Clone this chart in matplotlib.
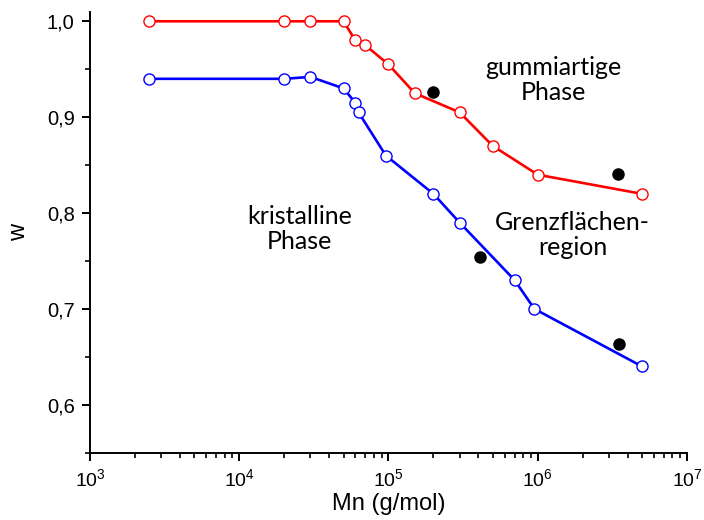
import matplotlib
matplotlib.use("Agg")
import matplotlib.pyplot as plt
from matplotlib.ticker import FuncFormatter, LogLocator, MultipleLocator, NullFormatter

# gummiartige (rubbery) phase, red
mn_red = [2.5e3, 2e4, 3e4, 5e4, 6e4, 7e4, 1e5, 1.5e5, 3e5, 5e5, 1e6, 5e6]
w_red = [1.0, 1.0, 1.0, 1.0, 0.98, 0.975, 0.955, 0.925, 0.905, 0.87, 0.84, 0.82]

# kristalline phase, blue
mn_blue = [2.5e3, 2e4, 3e4, 5e4, 6e4, 6.3e4, 9.6e4, 2e5, 3e5, 7e5, 9.5e5, 5e6]
w_blue = [0.94, 0.94, 0.942, 0.93, 0.915, 0.905, 0.86, 0.82, 0.79, 0.73, 0.70, 0.64]

# single filled points
mn_dots = [2e5, 4.1e5, 3.45e6, 3.5e6]
w_dots = [0.926, 0.754, 0.841, 0.663]

labels = ["gummiartige\nPhase", "kristalline\nPhase", "Grenzflächen-\nregion"]
label_x = [1.28e6, 2.55e4, 1.71e6]
label_y = [0.939, 0.783, 0.777]

fig = plt.figure(figsize=(7.04, 5.2), dpi=100)
ax = fig.add_axes([0.1278, 0.1294, 0.8480, 0.8481])

line_kw = dict(linewidth=1.9, marker="o", markersize=8,
               markerfacecolor="white", markeredgewidth=1.0)
ax.plot(mn_red, w_red, color="#ff0000", markeredgecolor="#ff0000", **line_kw)
ax.plot(mn_blue, w_blue, color="#0000ff", markeredgecolor="#0000ff", **line_kw)
ax.plot(mn_dots, w_dots, "o", color="black", markersize=8, linestyle="none")

for txt, x, y in zip(labels, label_x, label_y):
    ax.text(x, y, txt, ha="center", va="center", fontsize=18,
            family="Lato", linespacing=1.1)

ax.set_xscale("log")
ax.set_xlim(1e3, 1e7)
ax.set_ylim(0.55, 1.01)

ax.yaxis.set_major_locator(MultipleLocator(0.1))
ax.yaxis.set_minor_locator(MultipleLocator(0.05))
ax.yaxis.set_major_formatter(FuncFormatter(lambda v, p: f"{v:.1f}".replace(".", ",")))
ax.xaxis.set_major_locator(LogLocator(base=10, numticks=10))
ax.xaxis.set_minor_locator(LogLocator(base=10, subs=range(2, 10), numticks=20))
ax.xaxis.set_minor_formatter(NullFormatter())

for s in ("top", "right"):
    ax.spines[s].set_visible(False)
for s in ("left", "bottom"):
    ax.spines[s].set_linewidth(1.4)

ax.tick_params(which="major", direction="out", length=6, width=1.4,
               labelsize=14.5, pad=5)
ax.tick_params(axis="x", which="major", labelsize=14)
ax.tick_params(which="minor", direction="out", length=3.5, width=1.2)
for lab in ax.get_xticklabels() + ax.get_yticklabels():
    lab.set_family("Liberation Sans")

ax.set_xlabel("Mn (g/mol)", fontsize=17, family="Liberation Sans", labelpad=2)
ax.set_ylabel("w", fontsize=17, family="Liberation Sans", labelpad=12)

fig.savefig("out.png", dpi=100, facecolor="white")
